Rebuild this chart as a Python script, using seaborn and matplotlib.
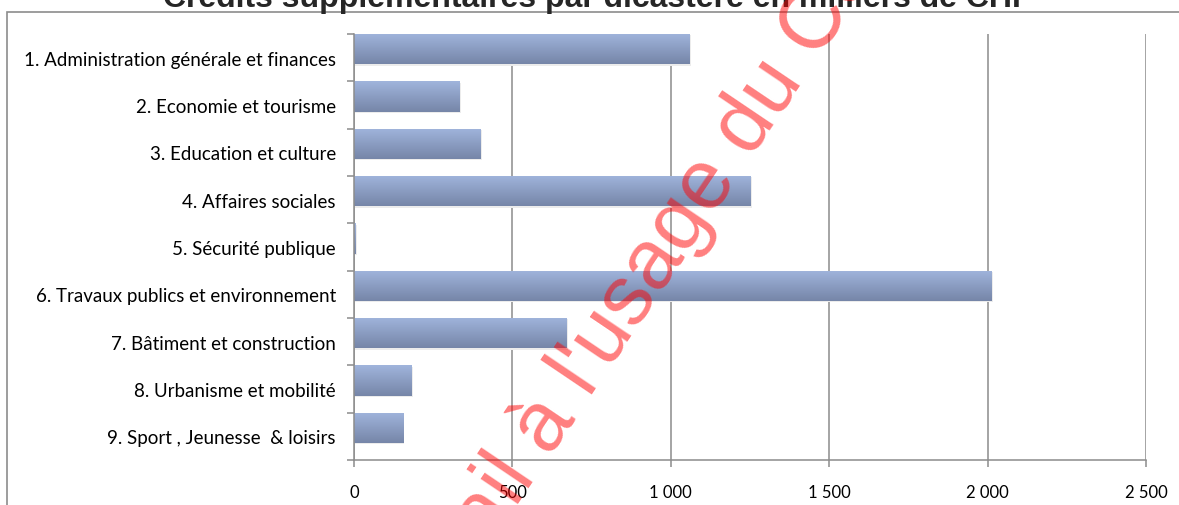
import numpy as np
import pandas as pd
import matplotlib.pyplot as plt
import matplotlib.patches as mpatches
from matplotlib.ticker import FixedLocator, FuncFormatter
import seaborn as sns

# ============================================================
# Données (milliers de CHF)
# ============================================================

dicasteres = [
    "1. Administration générale et finances",
    "2. Economie et tourisme",
    "3. Education et culture",
    "4. Affaires sociales",
    "5. Sécurité publique",
    "6. Travaux publics et environnement",
    "7. Bâtiment et construction",
    "8. Urbanisme et mobilité",
    "9. Sport , Jeunesse  & loisirs",
]
credits = [1060, 334, 400, 1252, 5, 2013, 672, 183, 155]

titre = "Crédits supplémentaires par dicastère en milliers de CHF"
filigrane = "Document de travail à l'usage du Conseil"

df = pd.DataFrame({"dicastere": dicasteres, "credit": credits})

# ============================================================
# Figure
# ============================================================

sns.set_style("white")
plt.rcParams['font.family'] = ['Lato', 'DejaVu Sans']

W, H = 1179, 506
fig = plt.figure(figsize=(W / 100, H / 100), dpi=100)
ax = fig.add_axes([354 / W, 1 - 461 / H, (1146 - 354) / W, (461 - 35) / H])

BAR_W = 0.64
sns.barplot(
    data=df,
    y="dicastere",
    x="credit",
    orient="h",
    color="#8a9cc4",
    width=BAR_W,
    saturation=1,
    ax=ax,
)

# barres collées en haut de chaque case (comme dans Excel) + dégradé vertical
grad = np.linspace(0, 1, 64).reshape(-1, 1)
cmap = sns.blend_palette(["#a0b4dc", "#7686a8"], as_cmap=True)
shift = (1 - BAR_W) / 2
for p in list(ax.patches):
    p.set_y(p.get_y() - shift)
    x0, y0 = p.get_x(), p.get_y()
    w, h = p.get_width(), p.get_height()
    p.set_edgecolor("none")
    if w <= 0:
        continue
    # ombre légère
    ax.add_patch(mpatches.Rectangle(
        (x0 + 4, y0 + 0.03), w, h, facecolor="#ececec",
        edgecolor="none", zorder=2.5,
    ))
    im = ax.imshow(
        grad, cmap=cmap, aspect="auto",
        extent=(x0, x0 + w, y0 + h, y0), zorder=3,
    )
    im.set_clip_path(p)

ax.set_xlim(0, 2500)
ax.set_ylim(len(dicasteres) - 0.5, -0.5)
ax.set_xlabel("")
ax.set_ylabel("")

# grille verticale
ax.xaxis.set_major_locator(FixedLocator([0, 500, 1000, 1500, 2000, 2500]))
ax.xaxis.set_major_formatter(FuncFormatter(lambda v, _: f"{int(v):,}".replace(",", " ")))
ax.grid(axis="x", color="#8c8c8c", linewidth=1.1)
ax.set_axisbelow(True)

# graduations de l'axe Y aux limites des catégories
ax.yaxis.set_major_locator(FixedLocator(np.arange(-0.5, len(dicasteres), 1.0)))
ax.yaxis.set_major_formatter(FuncFormatter(lambda v, _: ""))
ax.yaxis.set_minor_locator(FixedLocator(np.arange(len(dicasteres))))
ax.yaxis.set_minor_formatter(FuncFormatter(lambda v, _: dicasteres[int(round(v))]))
ax.tick_params(axis="y", which="major", length=5, width=1.1, color="#8c8c8c", left=True)
ax.tick_params(axis="y", which="minor", length=0, pad=13, labelsize=13.5, labelcolor="black")
ax.tick_params(axis="x", which="major", length=5, width=1.1, color="#8c8c8c",
               bottom=True, pad=12, labelsize=12, labelcolor="black")

for side in ["top", "right"]:
    ax.spines[side].set_visible(False)
for side in ["left", "bottom"]:
    ax.spines[side].set_color("#8c8c8c")
    ax.spines[side].set_linewidth(1.1)
    ax.spines[side].set_zorder(4)

# cadre du graphique
fig.patches.append(mpatches.Rectangle(
    (7 / W, -0.1), 1.2, 1.1 - 13 / H,
    transform=fig.transFigure, fill=False,
    edgecolor="#8c8c8c", linewidth=1.2,
))

# titre (coupé en haut)
fig.text(597 / W, 1 - 7.5 / H, titre, ha="center", va="baseline",
         fontsize=23, fontweight="bold", family="Liberation Sans")

# filigrane
fig.text(526 / W, 1 - 452 / H, filigrane, ha="center", va="center",
         rotation=56, rotation_mode="anchor", fontsize=61,
         color="red", alpha=0.5, family="Liberation Sans", zorder=10)

fig.savefig("out.png", dpi=100)
